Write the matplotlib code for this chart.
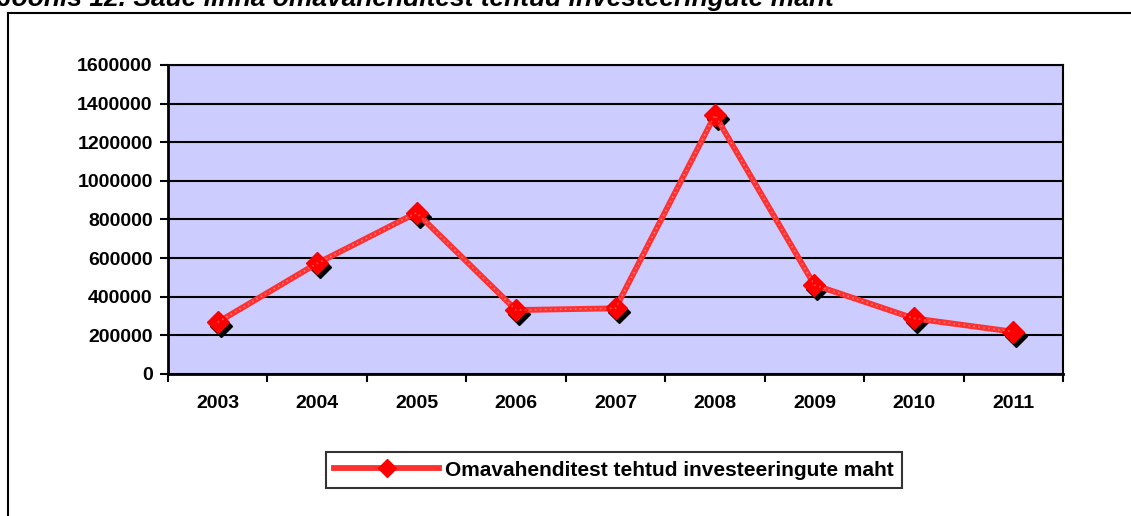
import matplotlib
matplotlib.use("Agg")
import matplotlib.pyplot as plt
import matplotlib.transforms as mtransforms
from matplotlib.lines import Line2D

years = ["2003", "2004", "2005", "2006", "2007", "2008", "2009", "2010", "2011"]
values = [268000, 573000, 835000, 331000, 340000, 1341000, 461000, 288000, 219000]
yticks = [0, 200000, 400000, 600000, 800000, 1000000, 1200000, 1400000, 1600000]
series_label = "Omavahenditest tehtud investeeringute maht"
title = "Joonis 12. Saue linna omavahenditest tehtud investeeringute maht"

plt.rcParams['font.family'] = ['Liberation Sans', 'DejaVu Sans']

W, H = 1131, 516
fig = plt.figure(figsize=(W / 100, H / 100), dpi=100)
fig.patch.set_facecolor('white')

def fx(px):
    return px / W

def fy(py):
    return 1 - py / H

# partially clipped title (cut at the top edge, as in the reference)
fig.text(fx(-3), fy(6), title, fontsize=19, fontweight='bold', fontstyle='italic',
         ha='left', va='baseline')

# outer chart frame
fig.add_artist(Line2D([fx(8), fx(8)], [0, fy(13)], color='black', lw=1.5))
fig.add_artist(Line2D([fx(8), 1], [fy(13), fy(13)], color='black', lw=1.5))

ax = fig.add_axes([fx(168), fy(374), fx(1063) - fx(168), fy(65) - fy(374)])
ax.set_facecolor('#CCCCFF')

x = list(range(len(years)))
ax.set_xlim(-0.5, len(years) - 0.5)
ax.set_ylim(0, 1600000)

for yv in yticks:
    ax.axhline(yv, color='black', lw=1.5, zorder=1)

# shadow markers
shadow = ax.transData + mtransforms.ScaledTranslation(3 / 100, -4 / 100, fig.dpi_scale_trans)
ax.plot(x, values, linestyle='none', marker='D', markersize=11, color='black',
        transform=shadow, zorder=3)
line, = ax.plot(x, values, color='#FF3030', lw=4.2, marker='D', markersize=11,
                markerfacecolor='#FF0000', markeredgecolor='#FF0000', zorder=4,
                label=series_label, solid_joinstyle='miter')
# light texture on the line
ax.plot(x, values, color='white', lw=1.2, linestyle=(0, (1, 2)), alpha=0.35, zorder=4.5)

ax.set_yticks(yticks)
ax.set_yticklabels([str(v) for v in yticks], fontsize=14, fontweight='bold')
ax.set_xticks(x)
ax.set_xticklabels(years, fontsize=14, fontweight='bold')
ax.tick_params(axis='x', which='major', length=0, pad=15)
ax.set_xticks([i - 0.5 for i in range(len(years) + 1)], minor=True)
ax.tick_params(axis='x', which='minor', length=6, width=1.5, direction='out')
ax.tick_params(axis='y', length=6, width=1.5, direction='out', pad=5)

for s in ax.spines.values():
    s.set_color('black')
    s.set_linewidth(1.5)
ax.spines['left'].set_linewidth(2)
ax.spines['bottom'].set_linewidth(2)

leg = fig.legend(handles=[line], labels=[series_label], loc='center',
                 bbox_to_anchor=(fx(614), fy(470)), frameon=True, fancybox=False,
                 edgecolor='black', handlelength=5.0, handletextpad=0.3,
                 borderpad=0.4, markerscale=0.8, prop={'size': 15, 'weight': 'bold'})
leg.get_frame().set_linewidth(1.5)

fig.savefig('out.png', dpi=100)
